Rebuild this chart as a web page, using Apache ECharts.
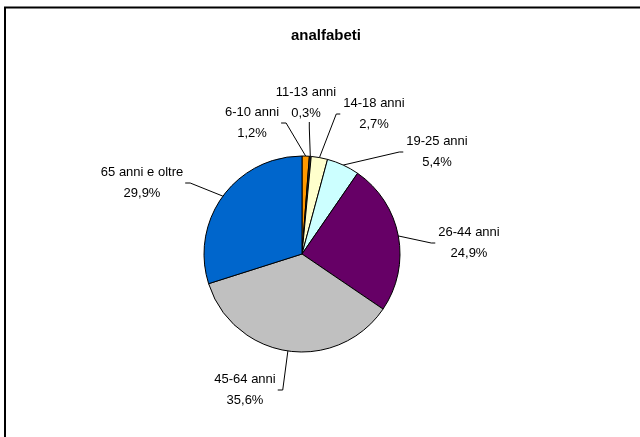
<!DOCTYPE html>
<html lang="it">
<head>
    <meta charset="UTF-8">
    <title>analfabeti</title>
    <style>
        * { margin: 0; padding: 0; box-sizing: border-box; }
        body { background: #fff; }
        #chart { width: 640px; height: 437px; }
    </style>
</head>
<body>
    <div id="chart"></div>

    <script src="https://cdn.jsdelivr.net/npm/echarts@6/dist/echarts.min.js"></script>
    <script>
    // dati: quota percentuale degli analfabeti per classe di età
    const categories = ['6-10 anni', '11-13 anni', '14-18 anni', '19-25 anni', '26-44 anni', '45-64 anni', '65 anni e oltre'];
    const shares = [1.2, 0.3, 2.7, 5.4, 24.9, 35.6, 29.9];
    const colors = ['#FF9900', '#333333', '#FFFFCC', '#CCFFFF', '#660066', '#C0C0C0', '#0066CC'];

    // posizione delle etichette (centro testo) e lato da cui arriva la linea guida
    const labelPos = [
        { x: 252, y: 123, side: 'left' },
        { x: 306, y: 103, side: 'bottom' },
        { x: 374, y: 114, side: 'right' },
        { x: 437, y: 152, side: 'right' },
        { x: 469, y: 243, side: 'right' },
        { x: 245, y: 390, side: 'left' },
        { x: 142, y: 183, side: 'left' }
    ];

    const FONT = "'Liberation Sans', Arial, sans-serif";

    const chart = echarts.init(document.getElementById('chart'), null, { renderer: 'canvas' });

    const fmtPct = (v) => v.toFixed(1).replace('.', ',') + '%';

    chart.setOption({
        animation: false,
        backgroundColor: '#fff',
        title: {
            text: 'analfabeti',
            left: 326,
            top: 28,
            padding: 0,
            textAlign: 'center',
            textStyle: { fontFamily: FONT, fontSize: 15, fontWeight: 'bold', color: '#000' }
        },
        graphic: [{
            type: 'rect',
            silent: true,
            z: 100,
            shape: { x: 5, y: 7.5, width: 700, height: 500 },
            style: { fill: 'none', stroke: '#000', lineWidth: 2 }
        }],
        series: [{
            type: 'pie',
            center: [302, 254],
            radius: 98,
            startAngle: 90,
            clockwise: true,
            avoidLabelOverlap: false,
            emphasis: { disabled: true },
            itemStyle: { borderColor: '#000', borderWidth: 1 },
            label: {
                show: true,
                position: 'outside',
                formatter: (p) => p.name + '\n' + fmtPct(p.value),
                fontFamily: FONT,
                fontSize: 13,
                lineHeight: 21,
                color: '#000',
                align: 'center'
            },
            labelLine: {
                show: true,
                length: 10,
                length2: 5,
                smooth: false,
                lineStyle: { color: '#000', width: 1 }
            },
            labelLayout: function (params) {
                const p = labelPos[params.dataIndex];
                const w = params.labelRect.width;
                const h = params.labelRect.height;
                const start = params.labelLinePoints ? params.labelLinePoints[0].slice() : [p.x, p.y];
                let end, elbow;
                if (p.side === 'left') {
                    end = [p.x + w / 2 + 2, p.y];
                    elbow = [end[0] + 5, p.y];
                } else if (p.side === 'right') {
                    end = [p.x - w / 2 - 3, p.y];
                    elbow = [end[0] - 4, p.y];
                } else {
                    end = [start[0] - 1, p.y + h / 2 - 2];
                    elbow = [start[0] - 1, end[1] + 6];
                }
                return {
                    x: p.x,
                    y: p.y,
                    align: 'center',
                    verticalAlign: 'middle',
                    labelLinePoints: [start, elbow, end]
                };
            },
            data: categories.map((name, i) => ({
                name: name,
                value: shares[i],
                itemStyle: { color: colors[i] }
            }))
        }]
    });
    </script>
</body>
</html>
